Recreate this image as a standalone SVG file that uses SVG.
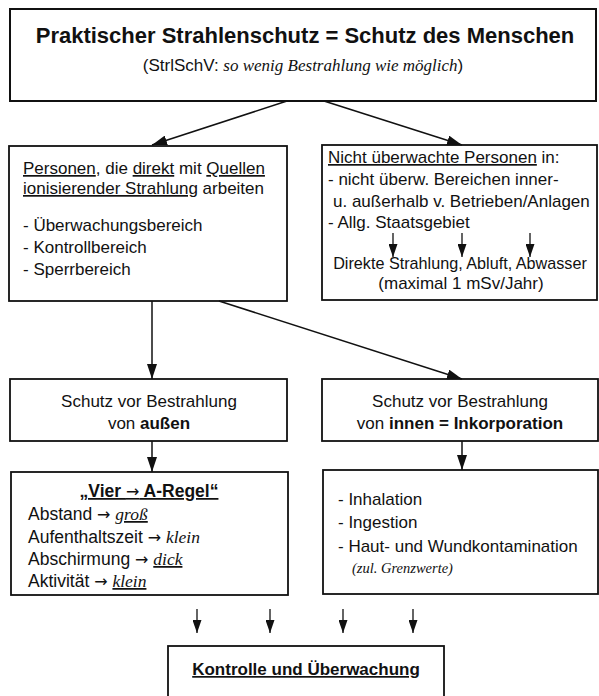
<svg xmlns="http://www.w3.org/2000/svg" width="599" height="696" viewBox="0 0 599 696">
<defs>
<marker id="ah" markerUnits="userSpaceOnUse" markerWidth="16" markerHeight="10" refX="15" refY="5" orient="auto">
<path d="M0,0 L15,5 L0,10 Z" fill="#111"/>
</marker>
<marker id="ahs" markerUnits="userSpaceOnUse" markerWidth="14" markerHeight="9" refX="13" refY="4.5" orient="auto">
<path d="M0,0 L13,4.5 L0,9 Z" fill="#111"/>
</marker>
</defs>
<style>
rect{fill:#fff;stroke:#111;stroke-width:1.8}
text{font-family:"Liberation Sans",Arial,sans-serif;fill:#111;font-size:17px}
.b{font-weight:bold}
.u{text-decoration:underline}
.it{font-family:"Liberation Serif","Times New Roman",serif;font-style:italic}
.ar{font-family:"DejaVu Sans",sans-serif;font-size:16px;font-weight:normal}
.c{text-anchor:middle}
.f175{font-size:17.5px}
.f162{font-size:16.2px}
.f145{font-size:14.5px}
.title{font-size:22px}
#connectors line{stroke:#111;stroke-width:1.5;marker-end:url(#ah)}
#connectors line.s{stroke-width:1.3;marker-end:url(#ahs)}
</style>
<rect x="0" y="0" width="599" height="696" style="fill:#fff;stroke:none"/>

<g id="top">
<rect x="10" y="9" width="586" height="92" style="stroke-width:2"/>
<text class="b c title" x="305" y="43">Praktischer Strahlenschutz = Schutz des Menschen</text>
<text class="c" x="303" y="71">(StrlSchV: <tspan class="it">so wenig Bestrahlung wie möglich</tspan>)</text>
</g>

<g id="personen">
<rect x="9" y="146" width="278" height="155"/>
<text x="23" y="174"><tspan class="u">Personen</tspan>, die <tspan class="u">direkt</tspan> mit <tspan class="u">Quellen</tspan></text>
<text x="23" y="194"><tspan class="u">ionisierender Strahlung</tspan> arbeiten</text>
<text x="23" y="231">- Überwachungsbereich</text>
<text x="23" y="253">- Kontrollbereich</text>
<text x="23" y="275">- Sperrbereich</text>
</g>

<g id="nicht-ueberwacht">
<rect x="322" y="145" width="275" height="155"/>
<text x="328" y="163"><tspan class="u">Nicht überwachte Personen</tspan> in:</text>
<text x="328" y="185">- nicht überw. Bereichen inner-</text>
<text x="333" y="207">u. außerhalb v. Betrieben/Anlagen</text>
<text x="328" y="228">- Allg. Staatsgebiet</text>
<text class="c f162" x="460" y="269">Direkte Strahlung, Abluft, Abwasser</text>
<text class="c" x="461" y="289">(maximal 1 mSv/Jahr)</text>
</g>

<g id="aussen">
<rect x="10" y="379" width="277" height="62"/>
<text class="c" x="149" y="407">Schutz vor Bestrahlung</text>
<text class="c" x="149" y="429">von <tspan class="b">außen</tspan></text>
</g>

<g id="innen">
<rect x="322" y="379" width="276" height="62"/>
<text class="c" x="460" y="407">Schutz vor Bestrahlung</text>
<text class="c" x="460" y="429">von <tspan class="b">innen = Inkorporation</tspan></text>
</g>

<g id="vier-a-regel">
<rect x="11" y="472" width="277" height="123"/>
<text class="b c u f175" x="149" y="497">„Vier <tspan class="ar">→</tspan> A-Regel“</text>
<text class="f175" x="28" y="520">Abstand <tspan class="ar">→</tspan> <tspan class="it u">groß</tspan></text>
<text class="f175" x="28" y="543">Aufenthaltszeit <tspan class="ar">→</tspan> <tspan class="it">klein</tspan></text>
<text class="f175" x="28" y="565">Abschirmung <tspan class="ar">→</tspan> <tspan class="it u">dick</tspan></text>
<text class="f175" x="28" y="587">Aktivität <tspan class="ar">→</tspan> <tspan class="it u">klein</tspan></text>
</g>

<g id="inkorporation-wege">
<rect x="323" y="470" width="275" height="124"/>
<text x="338" y="505">- Inhalation</text>
<text x="338" y="528">- Ingestion</text>
<text x="338" y="552">- Haut- und Wundkontamination</text>
<text class="it f145" x="352" y="573">(zul. Grenzwerte)</text>
</g>

<g id="kontrolle">
<rect x="168" y="646" width="276" height="60"/>
<text class="b c u" x="306" y="675">Kontrolle und Überwachung</text>
</g>

<g id="connectors">
<line x1="287" y1="101" x2="152" y2="145"/>
<line x1="324" y1="101" x2="462" y2="145"/>
<line x1="152" y1="301" x2="152" y2="379"/>
<line x1="219" y1="301" x2="462" y2="379"/>
<line x1="152" y1="441" x2="152" y2="472"/>
<line x1="462" y1="441" x2="462" y2="470"/>
<line class="s" x1="393" y1="233" x2="393" y2="257"/>
<line class="s" x1="462" y1="233" x2="462" y2="257"/>
<line class="s" x1="530" y1="233" x2="530" y2="257"/>
<line class="s" x1="197" y1="609" x2="197" y2="633"/>
<line class="s" x1="270" y1="609" x2="270" y2="633"/>
<line class="s" x1="343" y1="609" x2="343" y2="633"/>
<line class="s" x1="413" y1="609" x2="413" y2="633"/>
</g>
</svg>
